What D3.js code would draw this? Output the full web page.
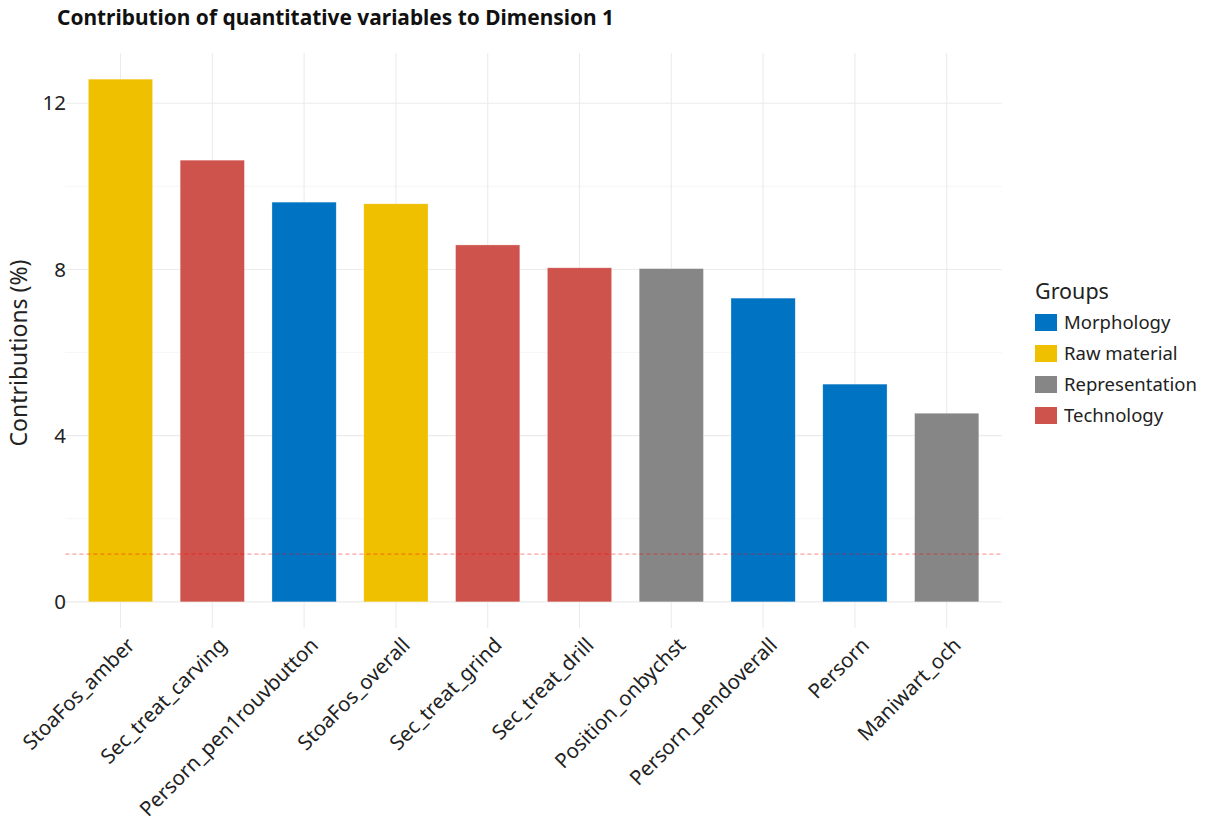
<!DOCTYPE html>
<html><head><meta charset="utf-8">
<script src="https://cdn.jsdelivr.net/npm/d3@7"></script>
<style>body{margin:0;background:#fff;font-family:"Noto Sans","Open Sans",sans-serif;}</style>
</head><body><svg id="chart" width="1211" height="826"></svg>
<script>
const categories = ["StoaFos_amber","Sec_treat_carving","Persorn_pen1rouvbutton","StoaFos_overall","Sec_treat_grind","Sec_treat_drill","Position_onbychst","Persorn_pendoverall","Persorn","Maniwart_och"];
const values = [12.58, 10.63, 9.62, 9.58, 8.59, 8.04, 8.02, 7.31, 5.24, 4.54];
const groups = ["Raw material","Technology","Morphology","Raw material","Technology","Technology","Representation","Morphology","Morphology","Representation"];
const groupNames = ["Morphology","Raw material","Representation","Technology"];
const groupColors = ["#0073C2","#EFC000","#868686","#CD534C"];
const yTicks = [0,4,8,12];
const minorTicks = [2,6,10];
const refLine = 1.15;

(function(){
const svg = d3.select("#chart");
const pL = 65.4, pR = 1001.8, pT = 53, pB = 628;
const maxV = d3.max(values);
const y = d3.scaleLinear().domain([-0.05*maxV, maxV*1.05]).range([pB, pT]);
const step = (pR-pL)/(categories.length + 0.2);
const x = d3.scaleBand().domain(categories).range([pL + 0.6*step - step/2, pR - 0.6*step + step/2]).paddingInner(0.3).paddingOuter(0.15);
const color = d3.scaleOrdinal().domain(groupNames).range(groupColors);
const xc = d => x(d) + x.bandwidth()/2;

const g = svg.append("g");
g.selectAll(".minor").data(minorTicks).join("line")
  .attr("x1", pL).attr("x2", pR).attr("y1", d=>y(d)).attr("y2", d=>y(d))
  .attr("stroke","#f0f0f0").attr("stroke-width",0.6);
g.selectAll(".major").data(yTicks).join("line")
  .attr("x1", pL).attr("x2", pR).attr("y1", d=>y(d)).attr("y2", d=>y(d))
  .attr("stroke","#ebebeb").attr("stroke-width",1.1);
g.selectAll(".vgrid").data(categories).join("line")
  .attr("x1", d=>xc(d)).attr("x2", d=>xc(d)).attr("y1", pT).attr("y2", pB)
  .attr("stroke","#ebebeb").attr("stroke-width",1.1);

g.selectAll(".bar").data(categories).join("rect")
  .attr("x", d=>x(d)).attr("width", x.bandwidth())
  .attr("y", (d,i)=>y(values[i])).attr("height", (d,i)=>y(0)-y(values[i]))
  .attr("fill", (d,i)=>color(groups[i]))
  .attr("stroke","#fff").attr("stroke-opacity",0.5).attr("stroke-width",0.6);

g.append("line").attr("x1", pL).attr("x2", pR).attr("y1", y(refLine)).attr("y2", y(refLine))
  .attr("stroke","#ff0000").attr("stroke-opacity",0.6).attr("stroke-width",0.8).attr("stroke-dasharray","4,3");

const yAxis = d3.axisLeft(y).tickValues(yTicks).tickSize(0).tickPadding(0).tickFormat(d3.format("d"));
const ya = svg.append("g").attr("transform",`translate(${pL+0.5},0)`).call(yAxis);
ya.select(".domain").remove();
ya.selectAll("text").attr("font-family","Noto Sans, Open Sans, sans-serif").attr("font-size",20.5).attr("fill","#222").attr("dx",0);

const xAxis = d3.axisBottom(x).tickSize(0).tickPadding(0);
const xa = svg.append("g").attr("transform",`translate(0,${pB})`).call(xAxis);
xa.select(".domain").remove();
xa.selectAll("text").attr("font-family","Noto Sans, Open Sans, sans-serif").attr("font-size",20.5).attr("fill","#222")
  .attr("text-anchor","end").attr("dy",0)
  .attr("transform","translate(3,6) rotate(-45)").attr("y",0).attr("x",0).attr("dominant-baseline","hanging");

svg.append("text").attr("transform",`translate(21,353) rotate(-90)`)
  .attr("text-anchor","middle").attr("dominant-baseline","middle").attr("font-size",23).attr("fill","#222").text("Contributions (%)");

svg.append("text").attr("x",57).attr("y",25).attr("font-size",20.9).attr("font-weight","bold").attr("fill","#111")
  .text("Contribution of quantitative variables to Dimension 1");

const lg = svg.append("g").attr("transform","translate(1035,0)");
lg.append("text").attr("x",0).attr("y",299).attr("font-size",21.5).attr("fill","#222").text("Groups");
groupNames.forEach((n,i)=>{
  const yy = 314 + i*31;
  lg.append("rect").attr("x",0).attr("y",yy).attr("width",22).attr("height",17).attr("fill",groupColors[i]);
  lg.append("text").attr("x",29).attr("y",yy+15).attr("font-size",18.5).attr("fill","#222").text(n);
});
})();
</script></body></html>
